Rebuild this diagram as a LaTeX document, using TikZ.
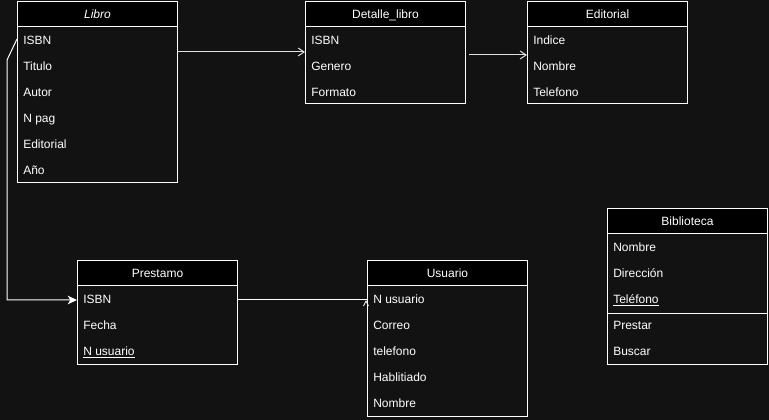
\documentclass[tikz,border=0pt]{standalone}
\usepackage{fontspec}
\setmainfont{Liberation Sans}
\usetikzlibrary{arrows.meta}
\definecolor{bg}{RGB}{18,18,18}
\definecolor{linec}{RGB}{225,225,225}
\tikzset{
  tbody/.style={draw=white, fill=bg, line width=0.75pt, minimum width=120pt, anchor=north west, inner sep=0pt},
  thead/.style={draw=white, fill=black, line width=0.75pt, minimum width=120pt, minimum height=18.75pt,
    anchor=north west, inner sep=0pt, text=white, font=\fontsize{9pt}{11pt}\selectfont, text height=6.5pt, text depth=0pt},
  trow/.style={anchor=west, inner sep=0pt, text=white, font=\fontsize{9pt}{11pt}\selectfont, text height=6.5pt, text depth=0pt},
  conn/.style={draw=linec, line width=0.75pt},
  connw/.style={draw=white, line width=0.75pt},
  sep/.style={draw=white, line width=0.75pt},
}
\begin{document}
\begin{tikzpicture}[x=0.75pt,y=-0.75pt]
\useasboundingbox[fill=bg] (0,0) rectangle (769,420);

% Libro
\node[tbody, minimum height=135.75pt] (libro) at (17,1) {};
\node[thead] (libroh) at (17,1) {\textit{Libro}};
\node[trow] (libro1) at (23,40) {ISBN};
\node[trow] (libro2) at (23,66) {Titulo};
\node[trow] (libro3) at (23,92) {Autor};
\node[trow] (libro4) at (23,118) {N pag};
\node[trow] (libro5) at (23,144) {Editorial};
\node[trow] (libro6) at (23,170) {Año};

% Detalle_libro
\node[tbody, minimum height=76.5pt] (detalle) at (305,1) {};
\node[thead] (detalleh) at (305,1) {Detalle\_libro};
\node[trow] (detalle1) at (311,40) {ISBN};
\node[trow] (detalle2) at (311,66) {Genero};
\node[trow] (detalle3) at (311,92) {Formato};

% Editorial
\node[tbody, minimum height=76.5pt] (editorial) at (527,1) {};
\node[thead] (editorialh) at (527,1) {Editorial};
\node[trow] (editorial1) at (533,40) {Indice};
\node[trow] (editorial2) at (533,66) {Nombre};
\node[trow] (editorial3) at (533,92) {Telefono};

% Biblioteca
\node[tbody, minimum height=117pt] (biblio) at (607,208) {};
\node[thead] (biblioh) at (607,208) {Biblioteca};
\node[trow] (biblio1) at (613,247) {Nombre};
\node[trow] (biblio2) at (613,273) {Dirección};
\node[trow] (biblio3) at (613,299) {\underline{Teléfono}};
\draw[sep] (biblio.west |- 0,314) -- (biblio.east |- 0,314);
\node[trow] (biblio4) at (613,325) {Prestar};
\node[trow] (biblio5) at (613,351) {Buscar};

% Prestamo
\node[tbody, minimum height=78pt] (prestamo) at (77,260) {};
\node[thead] (prestamoh) at (77,260) {Prestamo};
\node[trow] (prestamo1) at (83,299) {ISBN};
\node[trow] (prestamo2) at (83,325) {Fecha};
\node[trow] (prestamo3) at (83,351) {\underline{N usuario}};

% Usuario
\node[tbody, minimum height=117pt] (usuario) at (367,260) {};
\node[thead] (usuarioh) at (367,260) {Usuario};
\node[trow] (usuario1) at (373,299) {N usuario};
\node[trow] (usuario2) at (373,325) {Correo};
\node[trow] (usuario3) at (373,351) {telefono};
\node[trow] (usuario4) at (373,377) {Hablitiado};
\node[trow] (usuario5) at (373,403) {Nombre};

% Connectors
\draw[conn, -{Straight Barb[length=4.5pt,width=6pt]}] (libro.east |- 0,52) -- (detalle.west |- 0,52);
\draw[conn, -{Straight Barb[length=4.5pt,width=6pt]}] (468,55 -| detalle.east) ++(3,0) -- (editorial.west |- 0,55);
\draw[connw, -{Stealth[length=7pt,width=6.5pt,inset=2pt]}] (libro.west |- 0,39) -- ++(-10,21) |- (prestamo.west |- 0,300);
\draw[connw] (prestamo.east |- 0,300) -- (usuario.west |- 0,300);
\draw[connw, line width=0.6pt] (usuario.west |- 0,300) ++(-3.5,6) -- ++(2.5,-5) -- ++(2.5,5);
\end{tikzpicture}
\end{document}
